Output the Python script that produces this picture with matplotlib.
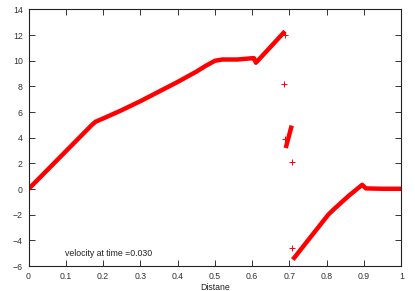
import numpy as np
import matplotlib
matplotlib.use("Agg")
from matplotlib import pyplot as plt

# main velocity profile, left part (breakpoints)
left_x = [0.0, 0.17, 0.18, 0.20, 0.25, 0.30, 0.35, 0.40, 0.45, 0.475, 0.50,
          0.52, 0.56, 0.60, 0.605, 0.61, 0.688]
left_y = [0.0, 5.0, 5.25, 5.5, 6.15, 6.85, 7.6, 8.35, 9.15, 9.6, 10.0,
          10.1, 10.1, 10.2, 10.2, 9.85, 12.3]

# short steep segment inside the shock region
mid_x = [0.690, 0.706]
mid_y = [3.2, 4.95]

# right part
right_x = [0.709, 0.804, 0.82, 0.86, 0.895, 0.905, 0.95, 1.0]
right_y = [-5.5, -2.0, -1.55, -0.5, 0.33, 0.05, 0.02, 0.02]

# isolated points
stray_x = [0.688, 0.686, 0.688, 0.708, 0.708]
stray_y = [12.0, 8.2, 3.9, 2.1, -4.6]

xticks = np.round(np.arange(0, 1.01, 0.1), 1)
xtick_labels = ["0", "0.1", "0.2", "0.3", "0.4", "0.5", "0.6", "0.7", "0.8", "0.9", "1"]
yticks = list(range(-6, 15, 2))

plt.rcParams['font.family'] = ['Liberation Sans', 'DejaVu Sans']

fig = plt.figure(figsize=(4.15, 2.91), dpi=100)
ax = fig.add_axes([0.0687, 0.0859, 0.8983, 0.8815])

red = '#ff0000'
for xs, ys in [(left_x, left_y), (mid_x, mid_y), (right_x, right_y)]:
    ax.plot(xs, ys, color=red, linewidth=3.2, solid_capstyle='butt',
            solid_joinstyle='round')
ax.plot(stray_x, stray_y, linestyle='none', marker='+', color=red,
        markersize=4, markeredgewidth=0.7)

ax.set_xlim(0, 1)
ax.set_ylim(-6, 14)
ax.set_xticks(xticks)
ax.set_xticklabels(xtick_labels)
ax.set_yticks(yticks)

ax.tick_params(direction='in', length=4, width=0.7, labelsize=6.3,
               top=True, right=True, colors='#333333', pad=4)
for sp in ax.spines.values():
    sp.set_linewidth(0.8)
    sp.set_color('#222222')

ax.set_xlabel('Distane', fontsize=6.3, color='#222222')
ax.xaxis.set_label_coords(0.5, -0.083)
ax.xaxis.label.set_va('center')
ax.text(0.098, -5.05, 'velocity at time =0.030', fontsize=6.3,
        ha='left', va='center', color='#222222')

fig.savefig('out.png', dpi=100)
